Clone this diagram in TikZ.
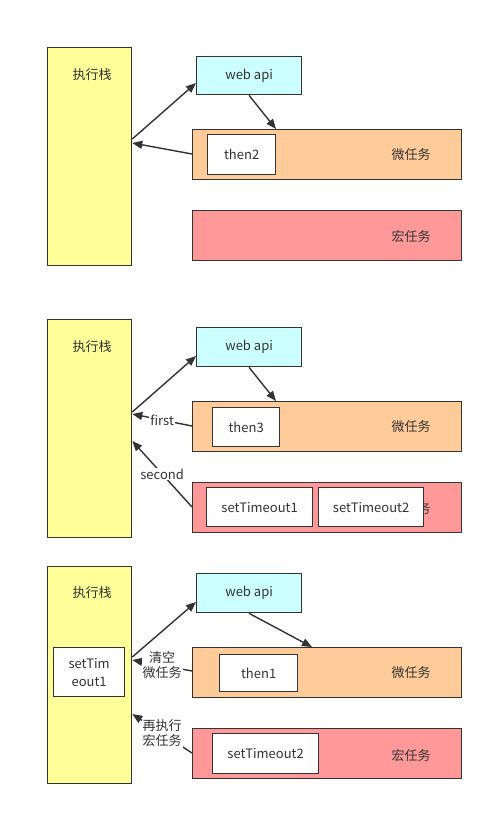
\documentclass[tikz,border=0pt]{standalone}
\usepackage{fontspec}
\setmainfont{Noto Sans CJK SC}
\usetikzlibrary{calc,arrows.meta}
\definecolor{stk}{HTML}{FFFF99}
\definecolor{web}{HTML}{CCFFFF}
\definecolor{mic}{HTML}{FFCC99}
\definecolor{mac}{HTML}{FF9999}
\definecolor{ink}{HTML}{333333}
\begin{document}
\begin{tikzpicture}[x=1pt,y=-1pt,
  font=\fontsize{13}{16}\selectfont, text=ink,
  box/.style={draw=ink, line width=1.3pt, inner sep=0pt, anchor=north west},
  lbl/.style={inner sep=1pt},
  arr/.style={draw=ink, line width=1.4pt, -{Triangle[length=10pt,width=8pt]}},
  tag/.style={fill=white, inner sep=1pt, align=center, font=\fontsize{13}{15}\selectfont}]
\useasboundingbox[fill=white] (0,0) rectangle (493,815);
% ---------- panel 1
\node[box, fill=stk, minimum width=84pt, minimum height=218pt] (stack1) at (47,47) {};
\node[lbl] (l1) at (92,75) {执行栈};
\node[box, fill=web, minimum width=105pt, minimum height=38pt] (web1) at (196,56) {};
\node[lbl] at (web1.center) {web api};
\node[box, fill=mic, minimum width=269pt, minimum height=50pt] (mic1) at (192,129) {};
\node[lbl] (m1) at (411,155) {微任务};
\node[box, fill=white, minimum width=68pt, minimum height=40pt] (then2) at (207,134) {};
\node[lbl] at (then2.center) {then2};
\node[box, fill=mac, minimum width=269pt, minimum height=50pt] (mac1) at (192,210) {};
\node[lbl] (k1) at (411,237) {宏任务};
\draw[arr] ($(stack1.north east)+(0,92)$) -- ($(web1.north west)+(0,27)$);
\draw[arr] ($(web1.south west)+(53,0)$) -- ($(mic1.north west)+(84,0)$);
\draw[arr] ($(mic1.north west)+(0,25)$) -- ($(stack1.north east)+(0,96)$);
% ---------- panel 2
\node[box, fill=stk, minimum width=84pt, minimum height=218pt] (stack2) at (47,319) {};
\node[lbl] (l2) at (92,347) {执行栈};
\node[box, fill=web, minimum width=105pt, minimum height=39pt] (web2) at (196,327) {};
\node[lbl] at (web2.center) {web api};
\node[box, fill=mic, minimum width=269pt, minimum height=50pt] (mic2) at (192,401) {};
\node[lbl] (m2) at (411,427) {微任务};
\node[box, fill=white, minimum width=67pt, minimum height=39pt] (then3) at (212,407) {};
\node[lbl] at (then3.center) {then3};
\node[box, fill=mac, minimum width=269pt, minimum height=50pt] (mac2) at (192,482) {};
\node[lbl] (k2) at (411,508) {宏任务};
\node[box, fill=white, minimum width=106pt, minimum height=39pt] (sa) at (206,487) {};
\node[lbl] at (sa.center) {setTimeout1};
\node[box, fill=white, minimum width=105pt, minimum height=39pt] (sb) at (318,487) {};
\node[lbl] at (sb.center) {setTimeout2};
\draw[arr] ($(stack2.north east)+(0,93)$) -- ($(web2.north west)+(0,29)$);
\draw[arr] ($(web2.south west)+(53,0)$) -- ($(mic2.north west)+(84,0)$);
\draw[arr] ($(mic2.north west)+(0,25)$) -- node[tag] {first} ($(stack2.north east)+(0,95)$);
\draw[arr] ($(mac2.north west)+(0,25)$) -- node[tag] {second} ($(stack2.north east)+(0,122)$);
% ---------- panel 3
\node[box, fill=stk, minimum width=84pt, minimum height=217pt] (stack3) at (47,566) {};
\node[lbl] (l3) at (92,593) {执行栈};
\node[box, fill=white, minimum width=71pt, minimum height=49pt] (inner) at (53,647) {};
\node[lbl, align=center, font=\fontsize{13}{18}\selectfont] at (inner.center) {setTim\\eout1};
\node[box, fill=web, minimum width=105pt, minimum height=39pt] (web3) at (196,573) {};
\node[lbl] at (web3.center) {web api};
\node[box, fill=mic, minimum width=269pt, minimum height=50pt] (mic3) at (192,647) {};
\node[lbl] (m3) at (411,673) {微任务};
\node[box, fill=white, minimum width=78pt, minimum height=37pt] (then1) at (219,654) {};
\node[lbl] at (then1.center) {then1};
\node[box, fill=mac, minimum width=269pt, minimum height=50pt] (mac3) at (192,728) {};
\node[lbl] (k3) at (411,755) {宏任务};
\node[box, fill=white, minimum width=106pt, minimum height=40pt] (sc) at (212,733) {};
\node[lbl] at (sc.center) {setTimeout2};
\draw[arr] ($(stack3.north east)+(0,91)$) -- ($(web3.north west)+(0,29)$);
\draw[arr] ($(web3.south west)+(53,0)$) -- ($(mic3.north west)+(120,0)$);
\draw[arr] ($(mic3.north west)+(0,24)$) -- node[tag] {清空\\微任务} ($(stack3.north east)+(0,94)$);
\draw[arr] ($(mac3.north west)+(0,25)$) -- node[tag] {再执行\\宏任务} ($(stack3.north east)+(0,148)$);
\end{tikzpicture}
\end{document}
